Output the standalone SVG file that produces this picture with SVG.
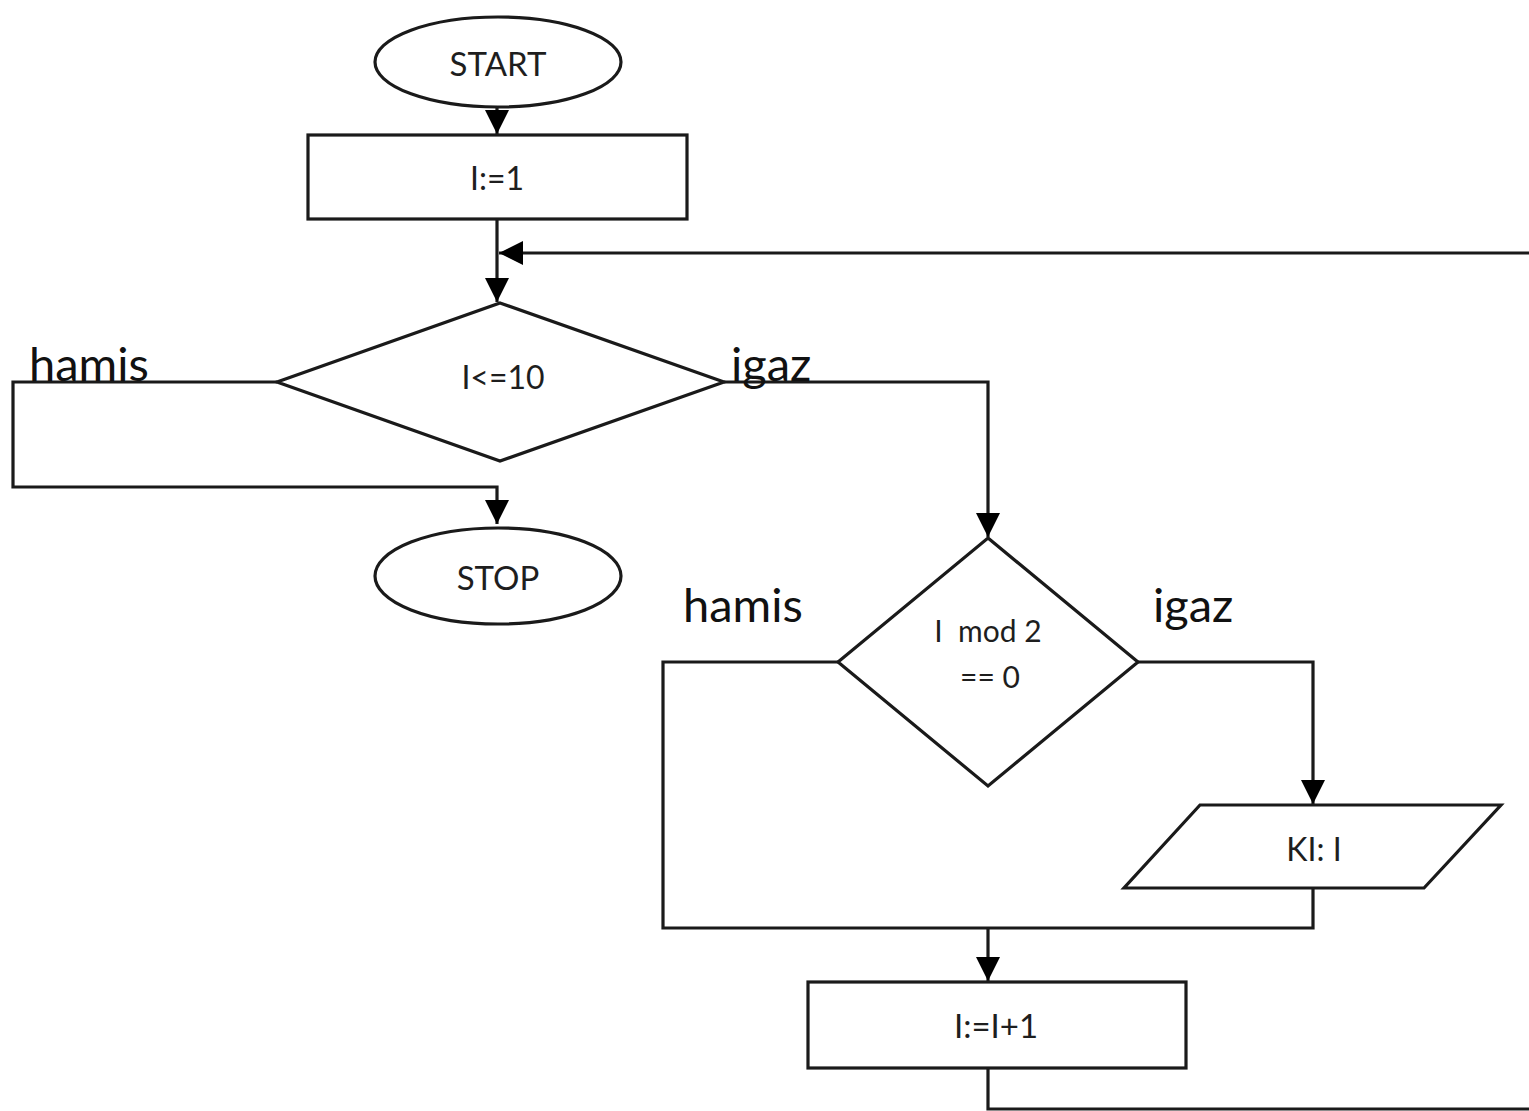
<svg xmlns="http://www.w3.org/2000/svg" width="1529" height="1111" viewBox="0 0 1529 1111">
<defs>
<marker id="arr" markerUnits="userSpaceOnUse" markerWidth="24" markerHeight="24" refX="24" refY="12" orient="auto" viewBox="0 0 24 24">
<path d="M0,0 L24,12 L0,24 z" fill="#000"/>
</marker>
<style>
.shape{fill:#fff;stroke:#1a1a1a;stroke-width:3.2}
.line{fill:none;stroke:#1a1a1a;stroke-width:3.2}
.t{font-family:Lato,"Open Sans","Liberation Sans",sans-serif;fill:#1e1e1e;text-anchor:middle;dominant-baseline:central}
.lbl{font-family:Lato,"Open Sans","Liberation Sans",sans-serif;fill:#111;font-size:47px}
</style>
</defs>
<rect width="1529" height="1111" fill="#fff"/>
<g id="connectors">
<line class="line" x1="497" y1="107" x2="497" y2="134" marker-end="url(#arr)"/>
<line class="line" x1="497" y1="219" x2="497" y2="302" marker-end="url(#arr)"/>
<line class="line" x1="1529" y1="253" x2="499" y2="253" marker-end="url(#arr)"/>
<polyline class="line" points="277,382 13,382 13,487 497,487 497,524" marker-end="url(#arr)"/>
<polyline class="line" points="724,382 988,382 988,537" marker-end="url(#arr)"/>
<polyline class="line" points="838,662 663,662 663,928 1313,928 1313,888"/>
<polyline class="line" points="1138,662 1313,662 1313,804" marker-end="url(#arr)"/>
<line class="line" x1="988" y1="928" x2="988" y2="981" marker-end="url(#arr)"/>
<polyline class="line" points="988,1068 988,1109 1529,1109"/>
</g>
<g id="start">
<ellipse class="shape" cx="498" cy="62" rx="123" ry="45"/>
<text class="t" x="498" y="63" font-size="33">START</text>
</g>
<g id="init">
<rect class="shape" x="308" y="135" width="379" height="84"/>
<text class="t" x="497" y="177" font-size="32">I:=1</text>
</g>
<g id="cond1">
<polygon class="shape" points="500,303 724,382 500,461 277,382"/>
<text class="t" x="503" y="376" font-size="32">I&lt;=10</text>
</g>
<g id="stop">
<ellipse class="shape" cx="498" cy="576" rx="123" ry="48"/>
<text class="t" x="498" y="577" font-size="33">STOP</text>
</g>
<g id="cond2">
<polygon class="shape" points="988,538 1138,662 988,786 838,662"/>
<text class="t" x="988" y="630" font-size="30" xml:space="preserve">I  mod 2</text>
<text class="t" x="990" y="676" font-size="30">== 0</text>
</g>
<g id="output">
<polygon class="shape" points="1200,805 1501,805 1424,888 1124,888"/>
<text class="t" x="1314" y="848" font-size="32">KI: I</text>
</g>
<g id="incr">
<rect class="shape" x="808" y="982" width="378" height="86"/>
<text class="t" x="996" y="1025" font-size="33">I:=I+1</text>
</g>
<g id="labels">
<text class="lbl" x="29" y="381">hamis</text>
<text class="lbl" x="731" y="381">igaz</text>
<text class="lbl" x="683" y="622">hamis</text>
<text class="lbl" x="1153" y="622">igaz</text>
</g>
</svg>
